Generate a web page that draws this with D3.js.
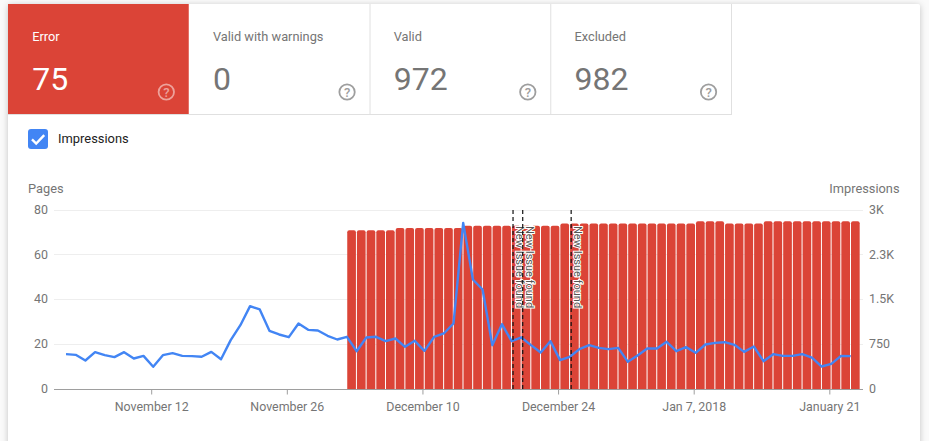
<!DOCTYPE html>
<html>
<head>
<meta charset="utf-8">
<script src="https://cdn.jsdelivr.net/npm/d3@7"></script>
<style>
html,body{margin:0;padding:0;background:#fafafa;overflow:hidden}
svg{display:block;font-family:Roboto,sans-serif}
</style>
</head>
<body>
<svg id="chart" width="929" height="441"></svg>
<script>
const tileLabels = ["Error", "Valid with warnings", "Valid", "Excluded"];
const tileValues = ["75", "0", "972", "982"];
const impressions = [592,581,486,626,575,542,626,520,564,380,575,609,564,559,548,631,508,827,1078,1397,1341,983,922,877,1106,1000,989,900,838,883,642,872,883,810,855,715,816,648,883,939,1106,2793,1844,1676,743,1095,810,872,743,620,810,492,548,676,743,698,676,698,464,570,687,687,799,642,710,615,754,782,793,749,631,721,475,592,564,564,592,536,385,430,564,559];
const pages = [71,71,71,71,71,72,72,72,72,72,72,72,73,73,73,73,73,73,73,73,73,73,74,74,74,74,74,74,74,74,74,74,74,74,74,74,75,75,75,74,74,74,74,75,75,75,75,75,75,75,75,75,75];
const pagesTicks = [0,20,40,60,80];
const impressionTicks = [0,750,1500,2250,3000];
const impressionTickLabels = ["0","750","1.5K","2.3K","3K"];
const dateTicks = ["2017-11-12","2017-11-26","2017-12-10","2017-12-24","2018-01-07","2018-01-21"];
const dateTickLabels = ["November 12","November 26","December 10","December 24","Jan 7, 2018","January 21"];
const issueDates = ["2017-12-19","2017-12-20","2017-12-25"];
const issueLabel = "New Issue found";
const firstDay = "2017-11-03";
const firstBarDay = "2017-12-02";

const RED = "#DB4437", BLUE = "#4285F4", GREY = "#757575";
const svg = d3.select("#chart");
const day = s => new Date(s + "T00:00:00Z");

/* card */
svg.append("rect").attr("x",8).attr("y",4).attr("width",912).attr("height",460).attr("rx",2)
  .attr("fill","#fff").style("filter","drop-shadow(0 1px 3px rgba(0,0,0,.22))");

/* tiles */
const tileX = d3.scaleBand().domain(d3.range(tileLabels.length)).range([8,731]);
const tile = svg.selectAll("g.tile").data(tileLabels).enter().append("g")
  .attr("transform",(d,i)=>`translate(${tileX(i)},4)`);
svg.append("line").attr("x1",8).attr("x2",731.5).attr("y1",114.5).attr("y2",114.5).attr("stroke","#e0e0e0");
tile.append("rect").attr("width",tileX.bandwidth()).attr("height",111)
  .attr("fill",(d,i)=>i===0?RED:"none");
tile.filter((d,i)=>i>0).append("line")
  .attr("x1",tileX.bandwidth()+.5).attr("x2",tileX.bandwidth()+.5).attr("y1",0).attr("y2",111).attr("stroke","#e0e0e0");
tile.append("text").attr("x",24.2).attr("y",37).attr("font-size",12.8)
  .attr("fill",(d,i)=>i===0?"#fff":GREY).text(d=>d);
tile.append("text").attr("x",24.2).attr("y",86).attr("font-size",32)
  .attr("fill",(d,i)=>i===0?"#fff":GREY).text((d,i)=>tileValues[i]);
const helpColor = (d,i)=>i===0?"rgba(255,255,255,.5)":"#9e9e9e";
tile.append("circle").attr("cx",158.3).attr("cy",88).attr("r",7.7).attr("fill","none")
  .attr("stroke-width",1.8).attr("stroke",helpColor);
tile.append("text").attr("x",158.3).attr("y",92.7).attr("text-anchor","middle")
  .attr("font-size",13).attr("font-weight",500).attr("fill",helpColor).text("?");

/* checkbox */
svg.append("rect").attr("x",28).attr("y",129).attr("width",20).attr("height",20).attr("rx",3).attr("fill",BLUE);
svg.append("path").attr("d","M32 139.3l4.2 4.2 8-8.3").attr("fill","none").attr("stroke","#fff").attr("stroke-width",2.4);
svg.append("text").attr("x",58).attr("y",143).attr("font-size",12.9).attr("fill","#212121").text("Impressions");

/* scales */
const x = d3.scaleUtc().domain([day(firstDay), d3.utcDay.offset(day(firstDay), impressions.length-1)]).range([66,850.7]);
const yL = d3.scaleLinear().domain([0,80]).range([389.5,210.5]);
const yR = d3.scaleLinear().domain([0,3000]).range([389.5,210.5]);
const crisp = v => Math.round(v) - .5;
const x0 = 54, x1 = 863;

svg.append("text").attr("x",28).attr("y",193).attr("font-size",12.8).attr("fill",GREY).text("Pages");
svg.append("text").attr("x",899.5).attr("y",193).attr("text-anchor","end").attr("font-size",12.8).attr("fill",GREY).text("Impressions");

/* gridlines */
svg.append("g").selectAll("line").data(pagesTicks.slice(1)).enter().append("line")
  .attr("x1",x0).attr("x2",x1).attr("y1",d=>crisp(yL(d))).attr("y2",d=>crisp(yL(d))).attr("stroke","#eeeeee");

/* bars */
const barPath = (d,i) => {
  const dt = d3.utcDay.offset(day(firstBarDay), i);
  const l = x(dt)+.3, r = x(d3.utcDay.offset(dt,1))-.7, t = yL(d)-.5, b = 389, c = 2;
  const p = d3.path();
  p.moveTo(l,b); p.lineTo(l,t+c); p.quadraticCurveTo(l,t,l+c,t);
  p.lineTo(r-c,t); p.quadraticCurveTo(r,t,r,t+c); p.lineTo(r,b); p.closePath();
  return p.toString();
};
svg.append("g").selectAll("path").data(pages).enter().append("path").attr("d",barPath).attr("fill",RED);

/* impressions line */
svg.append("path").datum(impressions)
  .attr("d",d3.line().x((d,i)=>x(d3.utcDay.offset(day(firstDay),i))).y(d=>yR(d)))
  .attr("fill","none").attr("stroke",BLUE).attr("stroke-width",2.4).attr("stroke-linejoin","round");

/* axes */
const styleAxis = g => {
  g.selectAll("text").attr("font-family","Roboto,sans-serif").attr("font-size",12.4).attr("fill",GREY);
};
const axB = svg.append("g").attr("transform","translate(-2,389.5)")
  .call(d3.axisBottom(x).tickValues(dateTicks.map(day)).tickSize(5).tickPadding(6)
    .tickFormat((d,i)=>dateTickLabels[i]));
axB.select(".domain").remove();
axB.selectAll(".tick line").attr("stroke","#9e9e9e");
axB.selectAll(".tick text").attr("dy","0.82em");
styleAxis(axB);
svg.append("line").attr("x1",x0).attr("x2",x1).attr("y1",389.5).attr("y2",389.5).attr("stroke","#9e9e9e");

const axL = svg.append("g").attr("transform","translate(48,-1)")
  .call(d3.axisLeft(yL).tickValues(pagesTicks).tickSize(0).tickPadding(0));
axL.select(".domain").remove();
styleAxis(axL);

const axR = svg.append("g").attr("transform","translate(869,-1)")
  .call(d3.axisRight(yR).tickValues(impressionTicks).tickSize(0).tickPadding(0)
    .tickFormat((d,i)=>impressionTickLabels[i]));
axR.select(".domain").remove();
styleAxis(axR);

/* annotations */
const ann = svg.append("g").selectAll("g").data(issueDates).enter().append("g")
  .attr("transform",d=>`translate(${x(day(d))+1.4},0)`);
ann.append("line").attr("y1",210).attr("y2",389).attr("stroke","#111").attr("stroke-width",1.2).attr("stroke-dasharray","4 3");
ann.append("text").attr("transform","translate(3,226) rotate(90)")
  .attr("font-size",11).attr("fill","#555")
  .attr("stroke","#fff").attr("stroke-width",2).attr("paint-order","stroke")
  .text(issueLabel);
</script>
</body>
</html>
